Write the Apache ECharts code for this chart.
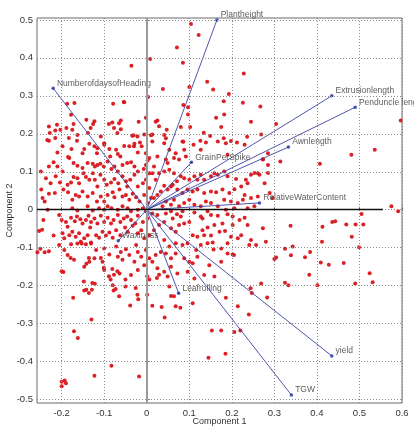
<!DOCTYPE html>
<html>
<head>
<meta charset="utf-8">
<script src="https://cdn.jsdelivr.net/npm/echarts@6/dist/echarts.min.js"></script>
<style>
  html, body { margin: 0; padding: 0; background: #fff; }
  #chart { width: 414px; height: 437px; }
</style>
</head>
<body>
<div id="chart"></div>
<script>
// PCA biplot: observation scores (red) and variable loadings (blue vectors)

const xTicks = [-0.2, -0.1, 0, 0.1, 0.2, 0.3, 0.4, 0.5, 0.6];
const yTicks = [-0.5, -0.4, -0.3, -0.2, -0.1, 0, 0.1, 0.2, 0.3, 0.4, 0.5];

// variable loadings on components 1 and 2
const varNames = ['Plantheight', 'NumberofdaysofHeading', 'Extrusionlength', 'Penduncle length',
  'Awnlength', 'GrainPerSpike', 'RelativeWaterContent', 'Waxiness', 'Leafrolling', 'yield', 'TGW'];
const loadX = [0.165, -0.22, 0.435, 0.49, 0.333, 0.105, 0.265, -0.067, 0.075, 0.435, 0.34];
const loadY = [0.5, 0.32, 0.30, 0.27, 0.165, 0.125, 0.018, -0.082, -0.22, -0.385, -0.488];

// observation scores, grouped by area of the plane
const scoresUpperLeft = [
  [-0.036,0.379],[0.008,0.397],[0.003,0.297],[-0.054,0.284],[-0.079,0.279],[-0.187,0.279],[-0.17,0.281],
  [-0.178,0.25],[-0.211,0.224],[-0.203,0.211],[-0.215,0.209],[-0.23,0.219],[-0.228,0.202],[-0.234,0.184],
  [-0.215,0.189],[-0.189,0.215],[-0.175,0.211],[-0.183,0.189],[-0.163,0.197],[-0.172,0.226],[-0.142,0.237],
  [-0.132,0.215],[-0.126,0.226],[-0.138,0.202],[-0.123,0.233],[-0.089,0.226],[-0.081,0.23],[-0.065,0.228],
  [-0.077,0.215],[-0.069,0.202],[-0.061,0.212],[-0.053,0.283],[-0.061,0.235],[-0.019,0.232],[-0.002,0.242],
  [-0.031,0.196],[-0.006,0.198],[0.01,0.196],[-0.108,0.193],[-0.1,0.175],[-0.116,0.162],[-0.034,0.195],
  [-0.022,0.193],[-0.016,0.177],[-0.03,0.167]
];
const scoresUpperRight = [
  [0.104,0.489],[0.122,0.46],[0.071,0.427],[0.085,0.387],[0.228,0.359],[0.142,0.337],[0.156,0.317],
  [0.038,0.318],[0.1,0.323],[0.193,0.305],[0.181,0.286],[0.226,0.282],[0.267,0.272],[0.086,0.276],
  [0.097,0.27],[0.097,0.251],[0.182,0.251],[0.163,0.242],[0.245,0.232],[0.175,0.218],[0.021,0.232],
  [0.025,0.235],[0.029,0.22],[0.047,0.211],[0.08,0.218],[0.102,0.218],[0.134,0.203],[0.041,0.197],
  [0.045,0.188],[0.013,0.198],[0.086,0.179],[0.126,0.182],[0.149,0.194],[0.181,0.188],[0.198,0.181],
  [0.236,0.192],[0.269,0.198],[0.304,0.226],[0.597,0.235],[0.481,0.145],[0.536,0.158],[0.407,0.121],
  [0.314,0.127],[0.285,0.118],[0.273,0.133],[0.253,0.097],[0.265,0.092],[0.285,0.097],[0.575,0.009],
  [0.591,-0.004],[0.505,-0.011]
];
const scoresMidLeft = [
  [-0.23,0.182],[-0.21,0.151],[-0.198,0.167],[-0.185,0.139],[-0.177,0.16],[-0.164,0.182],[-0.151,0.149],
  [-0.147,0.16],[-0.135,0.174],[-0.123,0.167],[-0.117,0.149],[-0.1,0.171],[-0.088,0.16],[-0.086,0.14],
  [-0.072,0.158],[-0.068,0.147],[-0.062,0.14],[-0.053,0.168],[-0.041,0.167],[-0.029,0.174],[-0.021,0.151],
  [-0.012,0.167],[-0.002,0.149],[0.002,0.13],[0.006,0.136],
  [-0.249,0.101],[-0.23,0.114],[-0.219,0.125],[-0.21,0.114],[-0.198,0.101],[-0.182,0.136],[-0.172,0.123],
  [-0.163,0.116],[-0.151,0.11],[-0.139,0.123],[-0.127,0.121],[-0.122,0.114],[-0.116,0.118],[-0.109,0.121],
  [-0.101,0.114],[-0.092,0.127],[-0.083,0.107],[-0.076,0.114],[-0.068,0.101],[-0.057,0.118],[-0.046,0.123],
  [-0.037,0.125],[-0.029,0.114],[-0.021,0.101],[-0.007,0.107],[-0.002,0.118],[0.006,0.096],
  [-0.248,0.053],[-0.237,0.083],[-0.226,0.07],[-0.214,0.088],[-0.204,0.072],[-0.186,0.066],[-0.178,0.072],
  [-0.172,0.086],[-0.163,0.083],[-0.159,0.07],[-0.149,0.096],[-0.143,0.086],[-0.135,0.079],[-0.127,0.096],
  [-0.122,0.079],[-0.116,0.061],[-0.109,0.092],[-0.1,0.079],[-0.094,0.066],[-0.084,0.072],[-0.076,0.081],
  [-0.067,0.07],[-0.057,0.088],[-0.049,0.075],[-0.046,0.061],[-0.039,0.079],[-0.029,0.092],[-0.021,0.061],
  [-0.009,0.07],[-0.002,0.079],[0.006,0.057],
  [-0.245,0.031],[-0.24,0.022],[-0.23,0.042],[-0.216,0.044],[-0.196,0.053],[-0.185,0.046],[-0.175,0.026],
  [-0.167,0.039],[-0.159,0.035],[-0.151,0.048],[-0.139,0.035],[-0.127,0.044],[-0.117,0.022],[-0.108,0.035],
  [-0.1,0.022],[-0.092,0.039],[-0.08,0.046],[-0.076,0.033],[-0.064,0.053],[-0.057,0.035],[-0.049,0.039],
  [-0.041,0.026],[-0.033,0.042],[-0.025,0.033],[-0.017,0.022],[-0.006,0.039],[0.002,0.018],[0.01,0.031],
  [-0.233,0],[-0.175,0.004],[-0.163,-0.002],[-0.139,0.009],[-0.127,-0.002],[-0.112,0.004],[-0.1,0],
  [-0.092,0.009],[-0.083,0.004],[-0.068,0],[-0.057,0.009],[-0.045,0.004],[-0.037,-0.004],[-0.021,0],
  [-0.009,0.004],[-0.002,-0.004]
];
const scoresMidRight = [
  [0.013,0.18],[0.041,0.175],[0.053,0.158],[0.068,0.149],[0.084,0.18],[0.088,0.158],[0.025,0.14],
  [0.045,0.132],[0.049,0.123],[0.064,0.136],[0.076,0.132],[0.092,0.14],[0.11,0.171],[0.127,0.158],
  [0.139,0.177],[0.167,0.18],[0.186,0.175],[0.19,0.145],[0.212,0.177],[0.23,0.171],[0.273,0.132],
  [0.285,0.149],[0.261,0.096],[0.245,0.092],[0.233,0.079],[0.237,0.07],[0.21,0.081],[0.19,0.088],
  [0.182,0.101],[0.167,0.092],[0.159,0.096],[0.151,0.088],[0.135,0.079],[0.127,0.092],[0.119,0.079],
  [0.112,0.088],[0.1,0.079],[0.088,0.083],[0.08,0.088],[0.071,0.075],[0.061,0.066],[0.057,0.061],
  [0.049,0.053],[0.041,0.063],[0.033,0.048],[0.025,0.039],[0.017,0.031],[0.021,0.079],[0.029,0.096],
  [0.041,0.101],[0.053,0.105],[0.017,0.114],[0.013,0.096],[0.064,0.096],[0.072,0.053],[0.084,0.044],
  [0.096,0.053],[0.108,0.048],[0.119,0.053],[0.135,0.044],[0.151,0.048],[0.163,0.046],[0.178,0.053],
  [0.194,0.044],[0.206,0.054],[0.222,0.061],[0.23,0.039],[0.245,0.031],[0.261,0.035],[0.226,0.026],
  [0.214,0.018],[0.198,0.022],[0.182,0.026],[0.167,0.009],[0.151,0.018],[0.139,0.022],[0.127,0.009],
  [0.112,0.013],[0.1,0.026],[0.088,0.018],[0.076,0.009],[0.064,0.026],[0.057,0.013],[0.045,0.022],
  [0.037,0.009],[0.289,0.044],[0.296,0.031],[0.277,0.07],[0.253,0.009],[0.237,0.004],[0.206,0.004],
  [0.186,0],[0.143,-0.004],[0.112,-0.007],[0.084,-0.004],[0.057,-0.004]
];
const scoresLowerLeft = [
  [-0.243,-0.027],[-0.253,-0.056],[-0.219,-0.068],[-0.206,-0.014],[-0.2,-0.027],[-0.19,-0.032],[-0.186,-0.045],
  [-0.178,-0.021],[-0.169,-0.03],[-0.164,-0.018],[-0.156,-0.025],[-0.151,-0.036],[-0.143,-0.027],[-0.137,-0.016],
  [-0.133,-0.047],[-0.131,-0.032],[-0.123,-0.023],[-0.116,-0.036],[-0.108,-0.016],[-0.1,-0.032],[-0.092,-0.021],
  [-0.084,-0.036],[-0.078,-0.027],[-0.068,-0.014],[-0.062,-0.032],[-0.054,-0.023],[-0.046,-0.018],[-0.037,-0.027],
  [-0.027,-0.036],[-0.021,-0.016],[-0.009,-0.032],[0.002,-0.023],
  [-0.198,-0.062],[-0.194,-0.075],[-0.182,-0.067],[-0.175,-0.058],[-0.167,-0.071],[-0.159,-0.062],[-0.155,-0.084],
  [-0.147,-0.075],[-0.139,-0.067],[-0.131,-0.086],[-0.119,-0.067],[-0.112,-0.074],[-0.104,-0.058],[-0.096,-0.068],
  [-0.088,-0.06],[-0.08,-0.074],[-0.072,-0.054],[-0.062,-0.067],[-0.051,-0.047],[-0.045,-0.058],[-0.033,-0.042],
  [-0.021,-0.062],[-0.013,-0.054],[-0.006,-0.075],[0.006,-0.067],
  [-0.23,-0.109],[-0.206,-0.093],[-0.194,-0.106],[-0.186,-0.119],[-0.178,-0.091],[-0.163,-0.089],[-0.153,-0.089],
  [-0.143,-0.091],[-0.131,-0.089],[-0.119,-0.106],[-0.1,-0.102],[-0.088,-0.118],[-0.072,-0.097],[-0.061,-0.111],
  [-0.049,-0.104],[-0.041,-0.119],[-0.025,-0.093],[-0.021,-0.111],[-0.013,-0.124],[-0.002,-0.106],[0.006,-0.128],
  [-0.135,-0.137],[-0.123,-0.128],[-0.104,-0.137],[-0.068,-0.124],[-0.057,-0.132],[-0.029,-0.137],[-0.006,-0.146],
  [-0.147,-0.15],[-0.1,-0.159],[-0.064,-0.168],[-0.037,-0.172],[-0.021,-0.159],
  [-0.24,-0.112],[-0.257,-0.112],[-0.25,-0.103],[-0.246,-0.053],[-0.2,-0.162],[-0.196,-0.164],[-0.179,-0.127],
  [-0.171,-0.132],[-0.173,-0.232],[-0.148,-0.189],[-0.142,-0.211],[-0.136,-0.219],[-0.128,-0.193],[-0.122,-0.195],
  [-0.142,-0.142],[-0.136,-0.127],[-0.108,-0.127],[-0.101,-0.153],[-0.089,-0.175],[-0.085,-0.184],[-0.077,-0.171],
  [-0.081,-0.156],[-0.069,-0.162],[-0.073,-0.209],[-0.065,-0.228],[-0.05,-0.184],[-0.026,-0.206],[-0.022,-0.224],
  [0.001,-0.224],[0.013,-0.253],[0.024,-0.18],[0.029,-0.171],[0.068,-0.254],[0.001,-0.175],[0.006,-0.184],
  [0.064,-0.228],[0.053,-0.202],
  [-0.2,-0.453],[-0.193,-0.45],[-0.19,-0.457],[-0.2,-0.465],[-0.123,-0.437],[-0.083,-0.411],[-0.018,-0.439],
  [-0.171,-0.32],[-0.162,-0.338],[-0.13,-0.289],[-0.147,-0.213],[-0.129,-0.211],[-0.078,-0.213],[-0.05,-0.202],
  [-0.08,-0.199],[-0.039,-0.252],[-0.02,-0.236],[0.035,-0.256],[0.042,-0.284],[0.057,-0.227],[0.079,-0.258],
  [0.108,-0.246]
];
const scoresLowerRight = [
  [0.013,-0.01],[0.025,-0.014],[0.045,-0.01],[0.061,-0.023],[0.071,-0.012],[0.08,-0.018],[0.041,-0.032],
  [0.029,-0.04],[0.017,-0.054],[0.057,-0.049],[0.068,-0.058],[0.076,-0.04],[0.088,-0.036],[0.1,-0.032],
  [0.127,-0.018],[0.131,-0.023],[0.151,-0.014],[0.167,-0.016],[0.19,-0.012],[0.202,-0.018],[0.218,-0.027],
  [0.23,-0.021],[0.237,-0.04],[0.202,-0.04],[0.178,-0.036],[0.159,-0.04],[0.143,-0.047],[0.131,-0.054],
  [0.135,-0.067],[0.108,-0.067],[0.119,-0.071],[0.096,-0.088],[0.084,-0.093],[0.068,-0.088],[0.053,-0.097],
  [0.041,-0.08],[0.033,-0.111],[0.021,-0.119],[0.013,-0.137],[0.045,-0.115],[0.057,-0.128],[0.068,-0.115],
  [0.088,-0.128],[0.1,-0.137],[0.108,-0.141],[0.119,-0.124],[0.116,-0.106],[0.127,-0.093],[0.143,-0.088],
  [0.155,-0.086],[0.171,-0.058],[0.184,-0.056],[0.151,-0.068],[0.19,-0.088],[0.175,-0.102],[0.198,-0.071],
  [0.214,-0.075],[0.205,-0.119],[0.19,-0.115],[0.175,-0.137],[0.147,-0.146],[0.096,-0.163],[0.072,-0.168],
  [0.057,-0.15],[0.049,-0.176],[0.041,-0.163],[0.025,-0.154],[0.112,-0.181],[0.135,-0.172],[0.159,-0.176],
  [0.273,-0.049],[0.28,-0.084],[0.245,-0.08],[0.241,-0.093],[0.257,-0.093],[0.269,-0.194],[0.222,-0.067],
  [0.3,-0.13],[0.244,-0.207],[0.247,-0.219],[0.283,-0.231],[0.24,-0.276],[0.214,-0.254],[0.186,-0.232],
  [0.206,-0.322],[0.22,-0.318],[0.153,-0.318],[0.175,-0.318],[0.145,-0.39],[0.185,-0.379],[0.202,-0.118],
  [0.157,-0.105],
  [0.338,-0.042],[0.413,-0.045],[0.436,-0.032],[0.443,-0.03],[0.469,-0.039],[0.491,-0.039],[0.509,-0.039],
  [0.482,-0.071],[0.412,-0.084],[0.499,-0.099],[0.343,-0.097],[0.325,-0.103],[0.339,-0.12],[0.384,-0.111],
  [0.372,-0.125],[0.409,-0.139],[0.428,-0.145],[0.463,-0.14],[0.382,-0.171],[0.524,-0.167],[0.531,-0.191],
  [0.49,-0.194],[0.325,-0.192],[0.333,-0.199],[0.401,-0.199],[0.304,-0.126]
];

const scores = [].concat(scoresUpperLeft, scoresUpperRight, scoresMidLeft,
  scoresMidRight, scoresLowerLeft, scoresLowerRight);

const FONT = "'Liberation Sans', Arial, sans-serif";
const X_MIN = -0.258, X_MAX = 0.6, Y_MIN = -0.509, Y_MAX = 0.505;
const fmt = v => (Math.abs(v) < 1e-9 ? '0' : String(v));

const gridLines = [];
xTicks.forEach(v => gridLines.push({ xAxis: v }));
yTicks.forEach(v => gridLines.push({ yAxis: v }));

const chart = echarts.init(document.getElementById('chart'), null, { renderer: 'canvas' });
chart.setOption({
  animation: false,
  backgroundColor: '#fff',
  grid: {
    left: 37, right: 12, top: 18, bottom: 34,
    outerBoundsMode: 'none', containLabel: false,
    show: true, borderColor: '#6a6a6a', borderWidth: 1
  },
  xAxis: {
    type: 'value', min: X_MIN, max: X_MAX,
    name: 'Component 1', nameLocation: 'middle', nameGap: 19, nameMoveOverlap: false,
    nameTextStyle: { fontFamily: FONT, fontSize: 9, color: '#333', verticalAlign: 'middle' },
    axisLine: { show: false },
    axisTick: { show: true, inside: true, length: 3, customValues: xTicks, lineStyle: { color: '#555' } },
    axisLabel: { customValues: xTicks, formatter: fmt, fontFamily: FONT, fontSize: 9.5, color: '#333', margin: 5 },
    splitLine: { show: false }
  },
  yAxis: {
    type: 'value', min: Y_MIN, max: Y_MAX,
    name: 'Component 2', nameLocation: 'middle', nameGap: 27, nameRotate: 90, nameMoveOverlap: false,
    nameTextStyle: { fontFamily: FONT, fontSize: 9, color: '#333', verticalAlign: 'middle' },
    axisLine: { show: false },
    axisTick: { show: true, inside: true, length: 3, customValues: yTicks, lineStyle: { color: '#555' } },
    axisLabel: { customValues: yTicks, formatter: fmt, fontFamily: FONT, fontSize: 9.5, color: '#333', margin: 4 },
    splitLine: { show: false }
  },
  series: [
    {
      // dotted grid and the two reference axes through the origin
      type: 'line', data: [], z: 1, silent: true,
      markLine: {
        silent: true, symbol: 'none', animation: false,
        label: { show: false },
        lineStyle: { type: [1, 2], color: '#8a8a8a', width: 1 },
        data: gridLines.concat([
          { xAxis: 0, lineStyle: { type: 'solid', color: '#9a9a9a', width: 2 } },
          [{ coord: [X_MIN, 0], lineStyle: { type: 'solid', color: '#111', width: 1.3 } },
           { coord: [0.555, 0] }]
        ])
      }
    },
    {
      type: 'scatter', data: scores, z: 2, silent: true,
      symbol: 'circle', symbolSize: 4,
      itemStyle: { color: '#d9141a', opacity: 0.95 }
    },
    {
      type: 'lines', coordinateSystem: 'cartesian2d', z: 3, silent: true,
      lineStyle: { color: '#3b45a3', width: 1, opacity: 0.9 },
      data: varNames.map((n, i) => ({ coords: [[0, 0], [loadX[i], loadY[i]]] }))
    },
    {
      type: 'scatter', z: 4, silent: true,
      symbol: 'circle', symbolSize: 3.5,
      itemStyle: { color: '#1c2a9c' },
      data: varNames.map((n, i) => ({ name: n, value: [loadX[i], loadY[i]] })),
      label: {
        show: true, position: 'right', distance: 2, offset: [0, -5],
        formatter: p => p.name,
        fontFamily: FONT, fontSize: 8.5, color: '#333'
      }
    }
  ]
});
</script>
</body>
</html>
